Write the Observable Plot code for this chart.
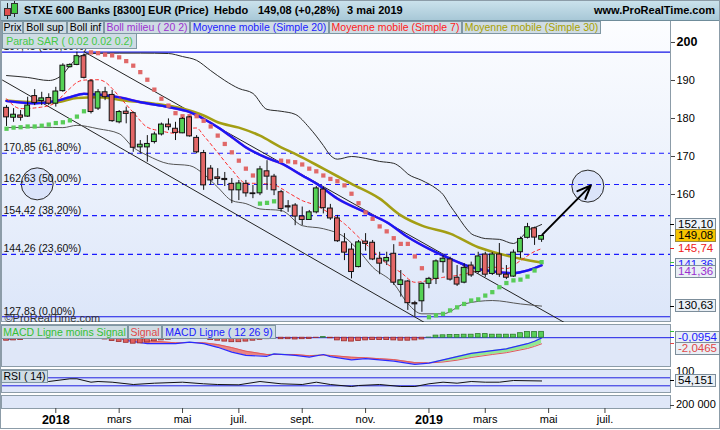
<!DOCTYPE html>
<html><head><meta charset="utf-8">
<script src="https://cdn.jsdelivr.net/npm/d3@7"></script>
<script src="https://cdn.jsdelivr.net/npm/@observablehq/plot@0.6"></script>
<style>
html,body{margin:0;padding:0;background:#fff;}
#wrap{position:relative;width:720px;height:430px;overflow:hidden;background:#fff;font-family:"Liberation Sans",Arial,sans-serif;color:#000;}
#wrap div{box-sizing:border-box;}
.abs{position:absolute;}
.panel{position:absolute;border:1px solid #8c9ca8;}
.lg{position:absolute;border:1px solid #7f97a3;background:#cfdce4;font-size:10.5px;text-align:center;white-space:nowrap;overflow:hidden;}
.vb{position:absolute;left:675px;height:13px;padding:0 2px;font-size:11.5px;line-height:11px;border:1px solid #7c8d9a;background:#e9eff5;white-space:nowrap;}
.tk{position:absolute;left:670px;width:4px;height:1px;}
.hd{position:absolute;top:4px;font-size:11px;font-weight:bold;white-space:nowrap;}
#wrap svg{position:absolute;left:0;}
</style></head>
<body><div id="wrap"></div>
<script>
// ---------- DATA ----------
const firstWeek = "2017-11-13"; // weekly candles, Monday dates
const open  = [182.8,180.2,180.8,180.5,185.9,184.6,185.4,183.9,187.2,193.5,194.1,196.4,189.8,182.6,186.9,186.2,179.0,181.8,181.4,172.4,172.4,173.8,175.8,178.4,177.3,176.1,180.3,174.9,170.9,166.8,164.5,164.1,162.8,161.1,162.8,160.3,160.3,166.1,164.7,160.6,156.9,157.1,154.2,153.3,155.3,161.3,156.3,153.7,147.4,145.5,140.9,147.6,147.3,143.1,142.4,144.4,136.2,137.1,131.4,131.9,136.5,137.8,142.2,142.9,138.1,136.8,141.3,139.6,144.2,139.1,144.2,138.9,138.4,144.8,148.6,151.1,148.1];
const high  = [183.4,182.6,182.1,185.6,187.6,186.9,186.5,188.2,194.4,194.4,197.45,197.0,190.2,187.6,188.2,187.4,182.1,183.0,181.7,174.2,175.5,176.4,178.8,179.9,179.0,180.2,180.5,175.5,171.6,167.6,166.8,165.8,164.2,163.7,163.7,162.4,167.4,168.9,165.3,161.1,158.4,157.6,156.7,155.8,162.1,161.9,157.4,154.5,149.7,147.0,147.9,149.7,147.9,144.8,144.8,146.8,140.0,137.4,131.9,136.7,138.2,142.8,143.9,143.5,141.3,141.8,142.2,144.8,144.8,144.7,147.1,141.3,145.4,148.8,152.4,151.4,149.3];
const low   = [177.9,179.0,179.3,180.3,183.4,183.4,183.4,183.0,186.9,193.3,193.9,190.4,181.2,182.1,184.7,179.0,178.6,178.6,171.1,170.7,168.5,173.3,175.4,176.8,174.2,176.0,175.1,170.7,161.1,162.4,162.4,162.1,157.6,158.4,159.3,158.9,159.7,161.1,159.7,155.3,155.3,151.8,151.8,153.2,154.9,154.9,153.2,147.4,142.6,137.8,140.7,145.1,142.6,138.9,141.3,136.1,133.0,129.5,127.83,129.0,135.2,136.3,139.3,137.2,135.8,136.5,138.2,139.1,138.2,138.7,138.2,137.6,138.2,143.1,148.3,146.6,147.4];
const close = [180.3,181.0,180.2,183.4,184.1,185.3,183.9,187.1,193.9,194.1,196.4,190.7,181.7,186.9,185.6,179.3,181.7,181.2,172.3,173.1,173.3,175.8,178.4,177.7,176.2,179.9,175.3,171.1,162.4,163.7,164.1,163.8,161.1,162.9,160.3,160.1,166.6,164.7,161.1,156.2,156.6,154.2,153.3,155.3,161.6,156.4,153.7,147.7,144.7,139.6,147.4,147.0,142.9,141.8,143.3,136.8,137.4,131.4,131.1,136.5,137.8,142.4,143.1,137.6,136.3,140.7,138.7,143.7,138.9,144.2,138.9,138.1,144.7,148.3,151.4,148.66,149.08];
const sar   = [177.3,177.6,177.7,177.9,177.9,178.1,178.4,178.8,179.0,179.5,180.5,181.9,197.4,197.2,196.8,196.6,196.1,195.1,193.9,192.2,190.2,187.6,185.2,183.4,181.4,180.6,180.6,180.6,179.4,177.9,175.5,173.3,171.1,168.9,166.8,165.0,157.6,157.8,158.2,168.9,168.7,168.5,167.9,166.8,166.1,165.0,164.1,163.5,162.4,160.2,157.7,155.3,153.6,151.6,150.3,148.5,147.0,147.0,143.7,140.6,127.7,128.2,128.6,129.5,130.3,131.2,132.1,132.4,133.4,134.3,135.6,136.7,137.4,137.6,138.4,140.0,142.2];

// indicator readings: candle number (1-based) and value
const bollSupIdx = [1,4,7,9,10,11,12,13,17,20,24,26,28,30,32,34,36,38,40,42,44,46,47,48,50,52,54,56,57,58,60,62,63,64,65,66,67,68,69,71,73,74,75,76,77];
const bollSupVal = [191.3,190.8,190.0,191.6,193.9,195.8,196.8,197.1,197.2,197.2,197.1,196.3,195.3,192.6,190.0,187.9,186.6,182.4,181.9,181.1,177.6,172.9,170.3,169.3,170.0,169.5,168.7,168.2,167.1,165.4,163.7,161.6,160.0,157.1,154.5,151.8,149.7,148.9,148.4,148.2,147.1,148.4,150.5,151.3,152.10];
const bollInfIdx = [1,6,9,11,14,17,19,21,24,27,29,31,33,35,37,40,43,46,49,51,53,56,58,60,63,66,70,74,77];
const bollInfVal = [177.6,177.7,177.6,178.2,177.3,176.0,172.4,170.3,168.1,167.6,165.4,161.9,158.4,157.6,156.2,155.8,151.8,151.0,148.8,145.3,140.9,136.6,131.3,128.6,128.6,131.2,132.1,131.2,130.63];
const ma20Idx = [1,5,8,10,12,15,17,20,24,27,29,31,33,35,38,40,43,45,48,52,55,58,61,64,67,70,73,75,77];
const ma20Val = [184.6,184.0,184.6,185.6,186.5,186.1,185.6,184.3,183.0,181.7,179.9,177.7,175.1,172.4,169.6,168.2,165.0,162.9,158.9,155.3,152.7,148.8,145.7,143.1,140.9,139.8,139.3,140.0,141.36];
const ma30Idx = [1,5,8,11,14,18,22,26,29,31,34,37,40,42,46,50,54,57,60,64,68,71,74,77];
const ma30Val = [184.7,184.3,184.3,185.4,185.6,184.7,183.9,182.6,180.8,179.0,177.6,175.5,172.4,170.7,166.8,162.8,158.9,154.5,151.8,149.7,146.1,144.4,143.1,142.1];
const ma7Idx = [1,3,6,8,9,10,11,12,14,15,16,17,19,21,23,25,26,28,29,31,33,35,37,39,41,43,45,47,49,51,53,55,57,59,61,63,65,67,70,72,74,76,77];
const ma7Val = [185.2,182.6,183.0,184.2,186.1,187.9,189.5,190.1,190.2,189.6,187.9,185.8,181.6,177.7,176.7,176.1,177.1,177.5,175.5,171.0,166.5,163.0,162.9,162.5,160.5,158.4,157.1,154.9,152.3,148.8,145.3,141.8,139.5,136.9,137.4,138.2,138.7,139.5,140.9,140.5,142.6,145.0,145.74];

const macdIdx = [1,5,9,12,14,16,18,21,25,27,29,31,33,35,38,39,42,44,46,47,50,52,54,56,59,61,63,65,67,70,72,75,76,77];
const macdLine = [-0.6,0.5,2.2,3.3,2.4,0.9,-0.93,-2.0,-2.0,-1.5,-2.0,-3.2,-4.8,-5.9,-6.2,-5.4,-5.9,-6.5,-5.6,-6.3,-7.4,-7.0,-7.4,-7.8,-8.9,-8.5,-7.4,-6.3,-5.2,-4.3,-3.7,-2.0,-1.2,-0.0954];
const macdSignal = [0.4,0.6,1.2,2.2,2.4,1.9,0.8,-1.0,-1.7,-1.6,-1.7,-2.3,-3.3,-4.5,-5.6,-5.6,-5.6,-6.0,-5.8,-5.9,-6.5,-6.7,-7.0,-7.3,-8.3,-8.4,-8.1,-7.5,-6.6,-5.6,-5.0,-3.6,-2.9,-2.0465];
const macdHist = [-1.0,-0.9,-0.8,-0.4,-0.1,0.2,0.3,0.6,1.0,1.2, 1.3,1.1,0.3,-0.2,-0.6,-1.1,-1.4,-1.7,-2.0,-1.9, -1.6,-1.2,-0.9,-0.7,-0.4,-0.2,0.1,-0.2,-0.4,-0.8, -1.0,-1.3,-1.5,-1.5,-1.3,-1.0,-0.7,-0.5,-0.2,-0.5, -0.5,-0.6,-0.5,-0.4,-0.1,0.2,-0.2,-0.9,-1.2,-1.3, -1.1,-0.9,-0.8,-0.8,-0.8,-0.9,-1.0,-1.0,-0.9,-0.6, 0.05,0.7,0.8,0.9,0.9,1.0,1.0,1.2,1.2,1.0, 1.0,1.0,1.0,1.5,1.9,1.9,1.95];

const rsiIdx = [1,7,10,11,13,14,16,19,22,26,29,31,34,37,40,43,45,47,50,51,54,57,59,61,63,65,67,69,71,73,77];
const rsiVal = [55,51.5,65,65,48,51.5,48,36.5,43,48,40,36.5,35,51.5,40,36.5,48,36.5,26.5,31.5,36.5,26.5,26.5,40,48,43,51.5,48,48,56.5,54.151];

const fibValues = [197.45,170.85,162.63,154.42,144.26,127.83];
const fibLabels = ["197,45 (100,00%)","170,85 (61,80%)","162,63 (50,00%)","154,42 (38,20%)","144,26 (23,60%)","127,83 (0,00%)"];

const channelUpper = [{date:"2018-01-29T12:00Z", p:197.5},{date:"2019-05-21T18:00Z", p:126.3}];
const channelLower = [{date:"2017-11-09T00:00Z", p:190.1},{date:"2019-01-02T00:00Z", p:126.4}];
const circles = [{date:"2017-12-13T12:00Z", p:162.8},{date:"2019-06-14T00:00Z", p:162.2}];
const arrowPts = [{d1:"2019-04-30T00:00Z", p1:149.5, d2:"2019-06-17T00:00Z", p2:162.4}];

const tickDates = ["2018-01-01","2018-03-05","2018-05-07","2018-07-02","2018-09-03","2018-11-05","2019-01-07","2019-03-04","2019-05-06","2019-07-01"];
const tickLabels = ["2018","mars","mai","juil.","sept.","nov.","2019","mars","mai","juil."];
const yearTick = [true,false,false,false,false,false,true,false,false,false];

const priceTicks = [190,180,170,160];

// ---------- BUILD ----------
const DAY = 864e5;
const weekDates = close.map((_, i) => new Date(Date.parse(firstWeek + "T00:00Z") + i * 7 * DAY));
const xDomain = [new Date("2017-11-09T00:00Z"), new Date("2019-09-04T04:00Z")];
const candles = weekDates.map((d, i) => ({date: d, o: open[i], h: high[i], l: low[i], c: close[i], s: sar[i]}));
const pts = (ix, vals) => ix.map((k, j) => ({date: weekDates[k - 1], v: vals[j]}));
const toD = s => new Date(s);
const FONT = "Liberation Sans, Arial, sans-serif";
const RED = "#e36767", GREEN = "#55d255";
const hw = 2.4 * DAY;
const xb = {type: "utc", domain: xDomain, axis: null};
const baseStyle = {background: "transparent", fontFamily: FONT, overflow: "visible"};

const wrap = document.getElementById("wrap");
function add(html) { wrap.insertAdjacentHTML("beforeend", html); }

// header and panels
add(`<div class="abs" style="left:0;top:0;width:720px;height:21px;background:linear-gradient(#cce3ed,#a8c8d7);border-bottom:1px solid #6f8c9a;"></div>`);
add(`<div class="abs" style="left:7px;top:3px;width:1px;height:16px;background:#222"></div>`);
add(`<div class="abs" style="left:4px;top:8px;width:7px;height:8px;background:#e05050;border:1px solid #333"></div>`);
add(`<div class="abs" style="left:14px;top:1px;width:1px;height:16px;background:#222"></div>`);
add(`<div class="abs" style="left:11px;top:3px;width:7px;height:11px;background:#40c840;border:1px solid #333"></div>`);
add(`<div class="hd" style="left:24px">STXE 600 Banks [8300] EUR (Price)</div>`);
add(`<div class="hd" style="left:214px">Hebdo</div>`);
add(`<div class="hd" style="left:258px">149,08 (+0,28%)</div>`);
add(`<div class="hd" style="left:347px">3 mai 2019</div>`);
add(`<div class="hd" style="right:5px">www.ProRealTime.com</div>`);

add(`<div class="panel" style="left:1px;top:21px;width:670px;height:301px;background:linear-gradient(#fcfdff,#dce6f9);border-top:none"></div>`);
add(`<div class="panel" style="left:1px;top:324px;width:670px;height:43px;background:#dfe7f8"></div>`);
add(`<div class="panel" style="left:1px;top:369px;width:670px;height:24px;background:#dfe7f8"></div>`);
add(`<div class="panel" style="left:1px;top:395px;width:670px;height:14px;background:#dfe7f8"></div>`);
add(`<div class="abs" style="left:0;top:0;width:720px;height:429px;border:1px solid #8c9ca8;"></div>`);

// ---------- MAIN ----------
const main = Plot.plot({
  width: 720, height: 301, marginLeft: 2, marginRight: 50, marginTop: 0, marginBottom: 0,
  x: xb, y: {domain: [126.316, 205.526], axis: null}, color: {type: "identity"},
  style: baseStyle,
  marks: [
    Plot.dot(circles, {x: d => toD(d.date), y: "p", r: 16, fill: "#dbe4fa", stroke: "#2a2a2a", strokeWidth: 1}),
    Plot.ruleY([fibValues[0], fibValues[5]], {stroke: "#1414e6", strokeWidth: 1.2}),
    Plot.ruleY(fibValues.slice(1, 5), {stroke: "#1a1aff", strokeWidth: 1.2, strokeDasharray: "5,4"}),
    Plot.line(channelUpper, {x: d => toD(d.date), y: "p", stroke: "#222", strokeWidth: 1, clip: true}),
    Plot.line(channelLower, {x: d => toD(d.date), y: "p", stroke: "#222", strokeWidth: 1, clip: true}),
    Plot.line(pts(bollSupIdx, bollSupVal), {x: "date", y: "v", stroke: "#2a2a2a", strokeWidth: 1, curve: "monotone-x"}),
    Plot.line(pts(bollInfIdx, bollInfVal), {x: "date", y: "v", stroke: "#555", strokeWidth: 1, curve: "monotone-x"}),
    Plot.line(pts(ma30Idx, ma30Val), {x: "date", y: "v", stroke: "#a39e14", strokeWidth: 2.6, curve: "monotone-x"}),
    Plot.line(pts(ma20Idx, ma20Val), {x: "date", y: "v", stroke: "#9b30d0", strokeWidth: 2.5, curve: "monotone-x"}),
    Plot.line(pts(ma20Idx, ma20Val), {x: "date", y: "v", stroke: "#1818f5", strokeWidth: 2.2, curve: "monotone-x"}),
    Plot.line(pts(ma7Idx, ma7Val), {x: "date", y: "v", stroke: "#ff2a2a", strokeWidth: 1, strokeDasharray: "3,3", curve: "monotone-x"}),
    Plot.dot(candles, {x: "date", y: "s", symbol: "square", r: 2.4, fill: d => d.s < d.c ? "#58cc58" : "#e06868", stroke: null}),
    Plot.ruleX(candles, {x: "date", y1: "l", y2: "h", stroke: "#111", strokeWidth: 1}),
    Plot.rect(candles, {x1: d => new Date(+d.date - hw), x2: d => new Date(+d.date + hw), y1: "o", y2: "c",
      fill: d => d.c >= d.o ? GREEN : RED, stroke: "#111", strokeWidth: 1}),
    Plot.arrow(arrowPts, {x1: d => toD(d.d1), y1: "p1", x2: d => toD(d.d2), y2: "p2", stroke: "#000", strokeWidth: 2, headLength: 11, headAngle: 45}),
    Plot.text(fibValues.map((v, i) => ({v, t: fibLabels[i]})), {y: "v", text: "t", frameAnchor: "left", textAnchor: "start", dx: 1, dy: -5.5, fontSize: 10.5, fill: "#111"}),
    Plot.text(["©ProRealTime.com"], {text: d => d, frameAnchor: "bottom-left", textAnchor: "start", dx: 2, dy: -1, fontSize: 11, fill: "#333"}),
    Plot.axisY({anchor: "right", ticks: priceTicks, tickSize: 4, tickPadding: 2, fontSize: 11, stroke: "#444"}),
    Plot.axisY({anchor: "right", ticks: [200], tickSize: 4, tickPadding: 2, fontSize: 12.5, fontWeight: "bold", stroke: "#444"})
  ]
});
main.style.top = "21px";
wrap.appendChild(main);

// ---------- MACD ----------
const macdRows = macdIdx.map((k, j) => ({date: weekDates[k - 1], m: macdLine[j], s: macdSignal[j]}));
const histRows = weekDates.map((d, i) => ({date: d, h: macdHist[i]}));
const macd = Plot.plot({
  width: 720, height: 42, marginLeft: 2, marginRight: 50, marginTop: 0, marginBottom: 0,
  x: xb, y: {domain: [-9.933, 4.067], axis: null}, color: {type: "identity"},
  style: baseStyle,
  marks: [
    Plot.areaY(macdRows, {x: "date", y1: "s", y2: d => Math.min(d.m, d.s), fill: "#e98585"}),
    Plot.areaY(macdRows, {x: "date", y1: "s", y2: d => Math.max(d.m, d.s), fill: "#93e893"}),
    Plot.line(macdRows, {x: "date", y: "s", stroke: "#e05a5a", strokeWidth: 1}),
    Plot.line(macdRows, {x: "date", y: "m", stroke: "#2a2aff", strokeWidth: 1.2}),
    Plot.ruleY([0], {stroke: "#1a1ae6", strokeWidth: 1}),
    Plot.rect(histRows, {x1: d => new Date(+d.date - hw), x2: d => new Date(+d.date + hw), y1: 0, y2: "h",
      fill: d => d.h >= 0 ? "#58d058" : "#e06060", stroke: d => d.h >= 0 ? "#2c7a2c" : "#9a2a2a", strokeWidth: 0.8})
  ]
});
macd.style.top = "325px";
wrap.appendChild(macd);

// ---------- RSI ----------
const rsi = Plot.plot({
  width: 720, height: 24, marginLeft: 2, marginRight: 50, marginTop: 0, marginBottom: 0,
  x: xb, y: {domain: [-8.5, 111.5], axis: null},
  style: baseStyle,
  marks: [
    Plot.ruleY([70, 30], {stroke: "#2020e0", strokeWidth: 1}),
    Plot.line(pts(rsiIdx, rsiVal), {x: "date", y: "v", stroke: "#111", strokeWidth: 1})
  ]
});
rsi.style.top = "369px";
wrap.appendChild(rsi);

// ---------- VOLUME PANEL + X AXIS ----------
const tickMap = new Map(tickDates.map((d, i) => [+new Date(d + "T00:00Z"), tickLabels[i]]));
const monthTicks = tickDates.filter((d, i) => !yearTick[i]).map(d => new Date(d + "T00:00Z"));
const yearTicks = tickDates.filter((d, i) => yearTick[i]).map(d => new Date(d + "T00:00Z"));
const axisPlot = Plot.plot({
  width: 720, height: 35, marginLeft: 2, marginRight: 50, marginTop: 0, marginBottom: 22,
  x: {type: "utc", domain: xDomain},
  style: baseStyle,
  marks: [
    Plot.axisX({ticks: monthTicks, tickFormat: d => tickMap.get(+d), tickSize: 5, tickPadding: 2, fontSize: 11, stroke: "#444", label: null}),
    Plot.axisX({ticks: yearTicks, tickFormat: d => tickMap.get(+d), tickSize: 5, tickPadding: 2, fontSize: 12.5, fontWeight: "bold", stroke: "#444", label: null})
  ]
});
axisPlot.style.top = "395px";
wrap.appendChild(axisPlot);

// ---------- LEGENDS ----------
const legendRow1 = [["Prix",2,21,"#000"],["Boll sup",23,44,"#000"],["Boll inf",67,37,"#000"],["Boll milieu ( 20 2)",104,86,"#9b30d0"],
  ["Moyenne mobile (Simple 20)",190,139,"#2020ff"],["Moyenne mobile (Simple 7)",329,133,"#ff2020"],["Moyenne mobile (Simple 30)",462,139,"#a8a000"]];
legendRow1.forEach(([t, l, w, c]) => add(`<div class="lg" style="left:${l}px;top:21px;width:${w}px;height:13px;line-height:11px;color:${c}">${t}</div>`));
add(`<div class="lg" style="left:2px;top:33px;width:135px;height:16px;line-height:14px;color:#44c844">Parab SAR ( 0.02 0.02 0.2)</div>`);
const legendMacd = [["MACD Ligne moins Signal",1,127,"#33c033"],["Signal",128,34,"#e04848"],["MACD Ligne ( 12 26 9)",162,114,"#2020ff"]];
legendMacd.forEach(([t, l, w, c]) => add(`<div class="lg" style="left:${l}px;top:325px;width:${w}px;height:14px;line-height:12px;color:${c}">${t}</div>`));
add(`<div class="lg" style="left:1px;top:370px;width:47px;height:13px;line-height:11px;color:#000">RSI ( 14)</div>`);

// ---------- RIGHT VALUE LABELS ----------
const ym = v => 21 + main.scale("y").apply(v);
const yd = v => 325 + macd.scale("y").apply(v);
const yr = v => 369 + rsi.scale("y").apply(v);
function tick(y, color) { add(`<div class="tk" style="top:${Math.round(y)}px;background:${color}"></div>`); }
function vbox(y, text, color, bg, border) {
  add(`<div class="vb" style="top:${(y - 6.5).toFixed(1)}px;color:${color};background:${bg};border-color:${border}">${text}</div>`);
}
const fmt = v => v.toFixed(2).replace(".", ",");
const lastClose = close[close.length - 1];
const lastSup = bollSupVal[bollSupVal.length - 1], lastInf = bollInfVal[bollInfVal.length - 1];
const lastMa7 = ma7Val[ma7Val.length - 1], lastMa20 = ma20Val[ma20Val.length - 1], lastSar = sar[sar.length - 1];
tick(ym(lastSup), "#000"); vbox(ym(lastSup), fmt(lastSup), "#000", "#eef3f8", "#7c8d9a");
tick(ym(lastClose), "#000"); vbox(ym(lastClose), fmt(lastClose), "#000", "#f7c500", "#9a8a40");
tick(ym(lastMa7), "#f02020"); vbox(ym(lastMa7), fmt(lastMa7), "#f02020", "transparent", "transparent");
tick(ym(lastSar), "#40c040");
tick(ym(lastMa20), "#2020ff"); vbox(ym(lastMa20), fmt(lastMa20), "#2020ff", "#e9eff5", "#7c8d9a");
vbox(ym(lastMa20) + 7, fmt(lastMa20), "#9b30d0", "#e9eff5", "#7c8d9a");
tick(ym(lastInf), "#000"); vbox(ym(lastInf), fmt(lastInf), "#000", "#e9eff5", "#7c8d9a");

const lastMacd = macdLine[macdLine.length - 1], lastSig = macdSignal[macdSignal.length - 1], lastHist = macdHist[macdHist.length - 1];
const f4 = v => v.toFixed(4).replace(".", ",");
tick(yd(lastHist), "#33c033");
tick(yd(lastSig), "#e04848");
tick(yd(lastMacd), "#2020ff"); vbox(yd(lastMacd), f4(lastMacd), "#2020ff", "#e9eff5", "#7c8d9a");
vbox(yd(lastMacd) + 11, f4(lastSig), "#e04848", "#e9eff5", "#7c8d9a");

const lastRsi = rsiVal[rsiVal.length - 1];
add(`<div class="abs" style="left:676px;top:${(yr(100) - 6).toFixed(1)}px;font-size:11px">100</div>`);
tick(yr(lastRsi), "#000"); vbox(yr(lastRsi), lastRsi.toFixed(3).replace(".", ","), "#000", "#e9eff5", "#7c8d9a");

tick(405, "#444");
add(`<div class="abs" style="left:676px;top:398px;font-size:11px;white-space:nowrap">200 000</div>`);
</script></body></html>
